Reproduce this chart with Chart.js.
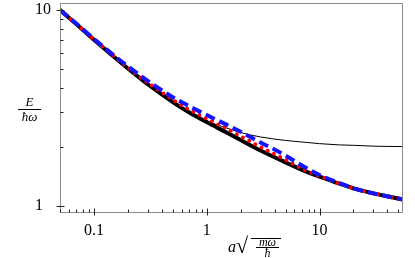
<!DOCTYPE html>
<html>
<head>
<meta charset="utf-8">
<script src="https://cdn.jsdelivr.net/npm/chart.js@4/dist/chart.umd.min.js"></script>
<style>
  body { margin: 0; background: #fff; }
  #wrap { position: relative; width: 415px; height: 258px; }
  .lbl { position: absolute; font-family: "Liberation Serif", serif; font-style: italic; color: #000; white-space: nowrap; }
  .bar { position: absolute; height: 0; border-top: 1px solid #000; }
</style>
</head>
<body>
<div id="wrap">
  <canvas id="energy-chart" width="415" height="258"></canvas>

  <!-- y title: E / hbar omega -->
  <div class="lbl" style="left:18px; top:95px; width:23px; text-align:center; font-size:13px; line-height:13px;">E</div>
  <div class="bar" style="left:18px; top:109px; width:23px;"></div>
  <div class="lbl" style="left:18px; top:110px; width:23px; text-align:center; font-size:13px; line-height:13px;">ħω</div>

  <!-- x title: a sqrt(m omega / hbar) -->
  <div class="lbl" style="left:228px; top:239px; font-size:16px; line-height:16px;">a</div>
  <div class="lbl" style="left:236px; top:235px; font-size:22px; line-height:22px; font-style:normal;">√</div>
  <div class="bar" style="left:251px; top:238px; width:30px;"></div>
  <div class="lbl" style="left:256px; top:236px; width:23px; text-align:center; font-size:12px; line-height:12px;">mω</div>
  <div class="bar" style="left:256px; top:247px; width:23px;"></div>
  <div class="lbl" style="left:256px; top:247px; width:23px; text-align:center; font-size:12px; line-height:12px;">ħ</div>
</div>

<script>
// a * sqrt(m w / hbar) sample points
const aValues = [0.05, 0.07, 0.1, 0.15, 0.2, 0.3, 0.5, 0.7, 1, 1.5, 2, 3, 5, 7, 10, 15, 20, 30, 55];

// E / (hbar w) for each curve
const energyExact = [10, 8.46, 7.05, 5.78, 5.03, 4.18, 3.39, 3.0, 2.68, 2.37, 2.17, 1.92, 1.67, 1.53, 1.41, 1.3, 1.23, 1.16, 1.08];
const energyThin = [10, 8.47, 7.06, 5.79, 5.05, 4.2, 3.42, 3.04, 2.72, 2.5, 2.37, 2.25, 2.16, 2.12, 2.08, 2.05, 2.04, 2.02, 2.01];
const energyDotted = [10, 8.48, 7.08, 5.82, 5.08, 4.26, 3.49, 3.1, 2.79, 2.48, 2.27, 2.0, 1.72, 1.55, 1.42, 1.3, 1.23, 1.16, 1.08];
const energyDashed = [10, 8.5, 7.12, 5.87, 5.16, 4.35, 3.59, 3.23, 2.91, 2.6, 2.39, 2.11, 1.81, 1.61, 1.44, 1.31, 1.23, 1.16, 1.08];

const xTickValues = [0.1, 1, 10];
const yTickValues = [1, 10];

const toPoints = (ys) => ys.map((y, i) => ({ x: aValues[i], y: y }));

// box around the plot + inward log ticks
const frameTicks = {
  id: "frameTicks",
  afterDraw(chart) {
    const { ctx, chartArea: area } = chart;
    const xs = chart.scales.x;
    const ys = chart.scales.y;
    ctx.save();
    ctx.strokeStyle = "#8c8c8c";
    ctx.lineWidth = 1;
    ctx.strokeRect(Math.round(area.left) + 0.5, Math.round(area.top) + 0.5,
      Math.round(area.right - area.left) - 1, Math.round(area.bottom - area.top) - 1);

    ctx.strokeStyle = "#222";
    const bottom = Math.round(area.bottom) - 0.5;
    const left = Math.round(area.left) + 0.5;
    for (let k = -2; k <= 2; k++) {
      for (let m = 1; m <= 9; m++) {
        const v = m * Math.pow(10, k);
        if (v >= xs.min && v <= xs.max) {
          const px = Math.round(xs.getPixelForValue(v)) + 0.5;
          ctx.beginPath();
          ctx.moveTo(px, m === 1 ? bottom + 3 : bottom);
          ctx.lineTo(px, m === 1 ? bottom - 4 : bottom - 3);
          ctx.stroke();
        }
        if (v >= ys.min && v <= ys.max) {
          const py = Math.round(ys.getPixelForValue(v)) + 0.5;
          ctx.beginPath();
          ctx.moveTo(m === 1 ? left - 4 : left, py);
          ctx.lineTo(m === 1 ? left + 4 : left + 3, py);
          ctx.stroke();
        }
      }
    }
    ctx.restore();
  },
};

const tickFont = { family: "'Liberation Serif', serif", size: 16 };

const ctx = document.getElementById("energy-chart").getContext("2d");
const energyChart = new Chart(ctx, {
  type: "line",
  data: {
    datasets: [
      {
        label: "dashed",
        data: toPoints(energyDashed),
        borderColor: "#1414ff",
        borderWidth: 4,
        borderDash: [10, 5],
      },
      {
        label: "dotted",
        data: toPoints(energyDotted),
        borderColor: "#ff0000",
        borderWidth: 4,
        borderDash: [0, 7],
        borderCapStyle: "round",
      },
      {
        label: "thin",
        data: toPoints(energyThin),
        borderColor: "#000",
        borderWidth: 1,
      },
      {
        label: "exact",
        data: toPoints(energyExact),
        borderColor: "#000",
        borderWidth: 4,
      },
    ],
  },
  options: {
    responsive: false,
    animation: false,
    devicePixelRatio: 1,
    events: [],
    elements: {
      point: { radius: 0 },
      line: { cubicInterpolationMode: "monotone", fill: false },
    },
    layout: { padding: { left: 35, top: 3, right: 12, bottom: 0 } },
    plugins: { legend: { display: false }, tooltip: { enabled: false } },
    scales: {
      x: {
        type: "logarithmic",
        min: 0.05,
        max: 55,
        grid: { display: false, drawTicks: false },
        border: { display: false },
        afterBuildTicks: (scale) => {
          scale.ticks = xTickValues.map((v) => ({ value: v }));
        },
        afterFit: (scale) => {
          scale.height = 45;
          scale.paddingLeft = 0;
          scale.paddingRight = 0;
        },
        ticks: {
          autoSkip: false,
          maxRotation: 0,
          padding: 8,
          color: "#000",
          font: tickFont,
          callback: (v) => String(v),
        },
      },
      y: {
        type: "logarithmic",
        min: 0.921,
        max: 10.857,
        grid: { display: false, drawTicks: false },
        border: { display: false },
        afterBuildTicks: (scale) => {
          scale.ticks = yTickValues.map((v) => ({ value: v }));
        },
        afterFit: (scale) => {
          scale.width = 25;
          scale.paddingTop = 0;
          scale.paddingBottom = 0;
        },
        ticks: {
          autoSkip: false,
          crossAlign: "far",
          color: "#000",
          font: tickFont,
          callback: (v) => String(v),
        },
      },
    },
  },
  plugins: [frameTicks],
});
</script>
</body>
</html>
